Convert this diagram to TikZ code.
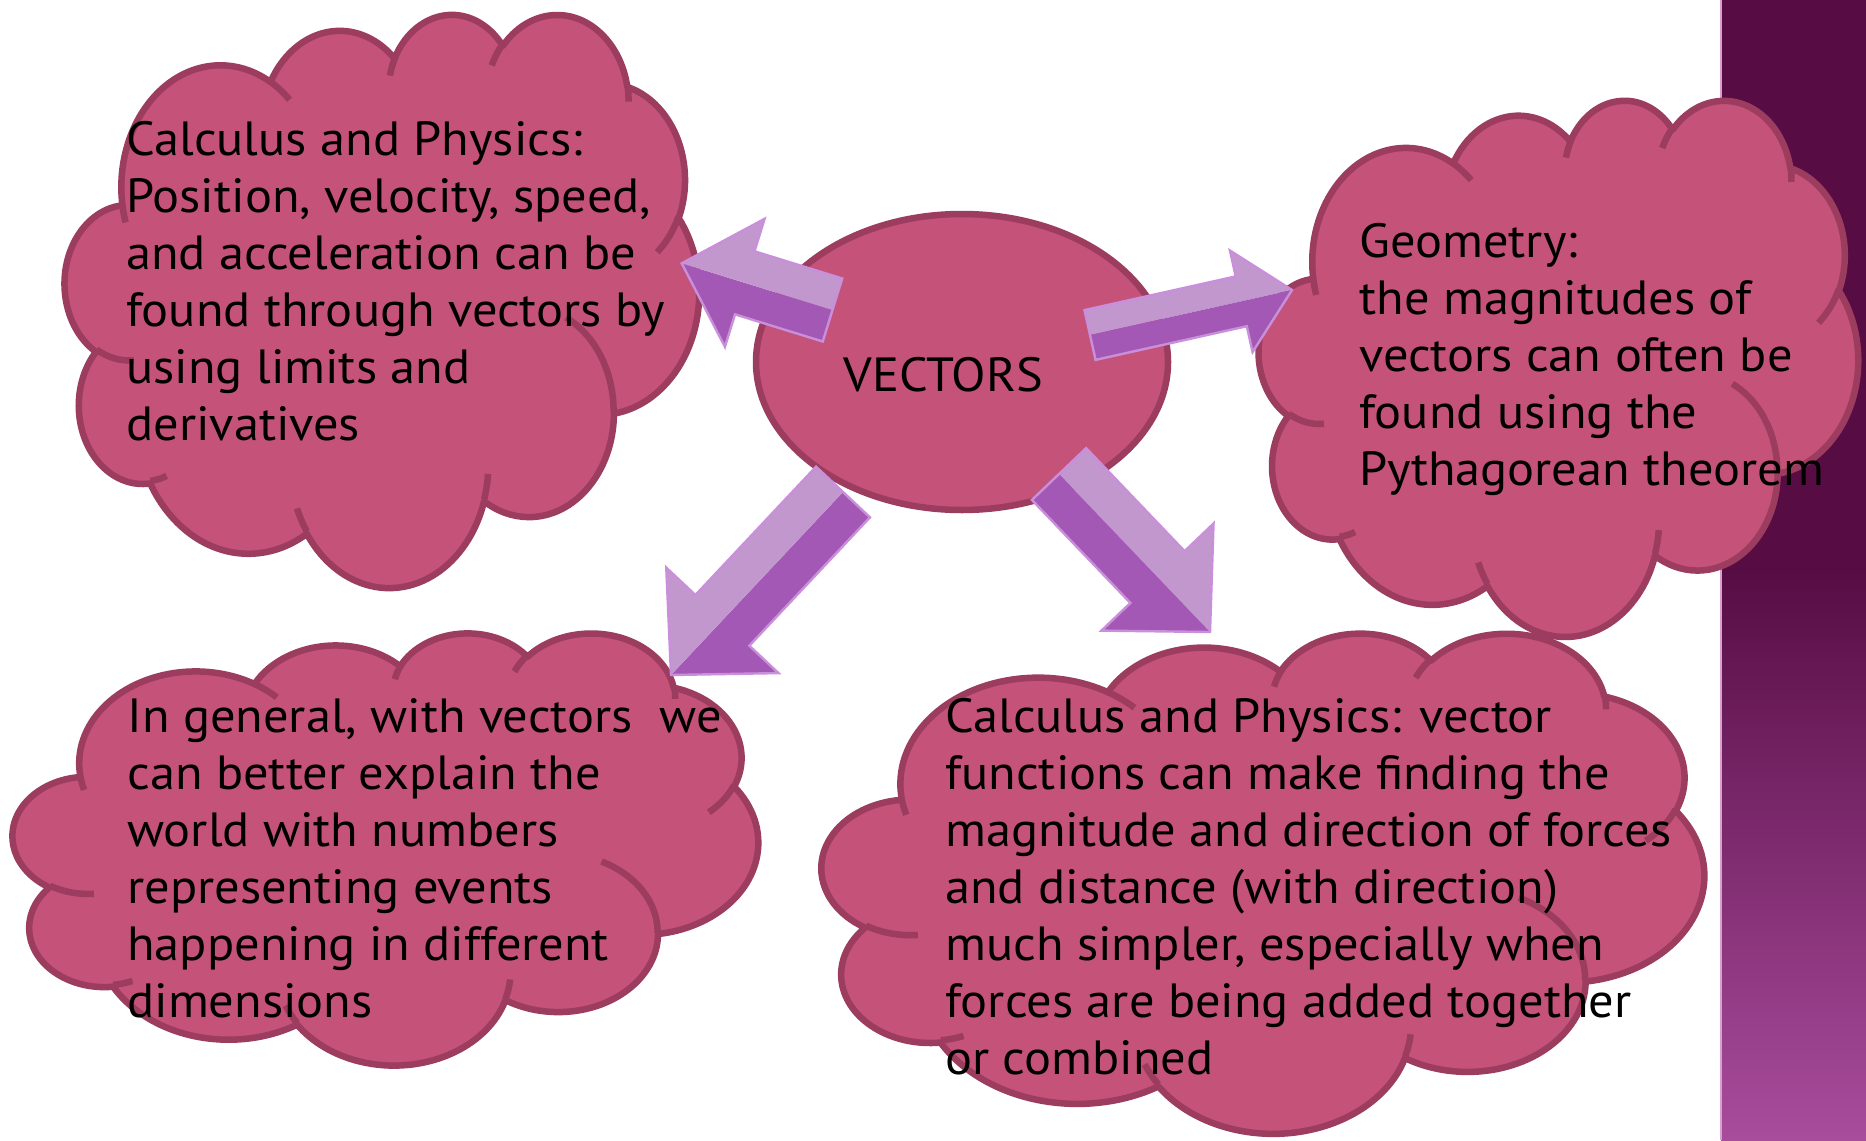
\documentclass[tikz,border=0pt]{standalone}
\usepackage{fontspec}
\setmainfont{PT Sans}[FakeStretch=1.05]
\usetikzlibrary{calc,shapes.geometric}
\definecolor{cloudfill}{HTML}{C45279}
\definecolor{cloudedge}{HTML}{9C3C5E}
\definecolor{arrlight}{HTML}{C297CE}
\definecolor{arrlighter}{HTML}{CDA8DA}
\definecolor{arrdark}{HTML}{A458B5}
\definecolor{arrdarker}{HTML}{B06AC3}
\definecolor{arredge}{HTML}{C98FDA}
\definecolor{bandtop}{HTML}{570D44}
\definecolor{bandbot}{HTML}{A84C9C}
\definecolor{bandedge}{HTML}{D9A0CF}

% arc angle helper: name, wR, hR, start (visual deg), sweep (deg)
\newcommand\cang[5]{%
  \pgfmathsetmacro\tmpts{atan2(#2*sin(#4), #3*cos(#4))}%
  \pgfmathsetmacro\tmpte{atan2(#2*sin(#4+#5), #3*cos(#4+#5))}%
  \pgfmathsetmacro\tmpd{mod(\tmpte-\tmpts+720,360)}%
  \expandafter\xdef\csname zq#1s\endcsname{\tmpts}%
  \expandafter\xdef\csname zq#1d\endcsname{\tmpd}%
}
\cang{A}{6.753}{9.190}{-190.4875}{123.7805}
\cang{B}{5.333}{7.267}{-144.1024}{89.9452}
\cang{C}{4.365}{5.945}{-145.8079}{99.7230}
\cang{D}{4.857}{6.595}{-130.9861}{117.2417}
\cang{E}{5.333}{7.273}{-78.7089}{109.0269}
\cang{F}{6.775}{9.220}{-46.2673}{130.2690}
\cang{G}{5.785}{7.867}{0.6250}{114.0333}
\cang{H}{6.752}{9.215}{22.4516}{115.1726}
\cang{I}{7.720}{10.543}{66.2426}{75.7110}
\cang{J}{4.360}{5.918}{-274.9421}{146.7356}
\cang{K}{4.345}{5.945}{-246.8285}{152.5189}
\cang{a}{4.345}{5.945}{86.7420}{26.4295}
\cang{b}{4.360}{5.918}{73.6105}{11.4475}
\cang{c}{6.752}{9.215}{137.6242}{14.0811}
\cang{d}{6.752}{9.215}{6.4533}{15.9984}
\cang{e}{5.785}{7.867}{-70.2924}{70.9174}
\cang{f}{5.333}{7.273}{30.3180}{27.7515}
\cang{g}{4.857}{6.595}{-13.7443}{14.8589}
\cang{h}{4.857}{6.595}{-149.1815}{18.1954}
\cang{i}{4.365}{5.945}{-163.4943}{17.6864}
\cang{j}{6.753}{9.190}{-66.7070}{12.3194}
\cang{k}{6.753}{9.190}{157.6544}{11.8582}

\tikzset{
  cloudbody/.style={fill=cloudfill, draw=cloudedge, line width=3.25pt, line join=round},
  cloudinner/.style={draw=cloudedge, line width=3.25pt, line cap=butt},
  arrowedge/.style={draw=arredge, line width=1.2pt, line join=miter},
  txt/.style={font=\fontsize{24pt}{28.5pt}\selectfont, align=left, inner sep=0pt, anchor=base west, text=black},
}

% cloud: left, top, width, height (in px units)
\newcommand\pptcloud[4]{%
  \pgfmathsetmacro\cxu{#3/43.2*0.5}%
  \pgfmathsetmacro\cyu{#4/43.2*0.5}%
  \begin{scope}[shift={(#1,#2)}, x=\cxu pt, y=-\cyu pt]
    \path[cloudbody] (3.9,14.37)
      arc[start angle=\zqAs, delta angle=\zqAd, x radius=6.753, y radius=9.190]
      arc[start angle=\zqBs, delta angle=\zqBd, x radius=5.333, y radius=7.267]
      arc[start angle=\zqCs, delta angle=\zqCd, x radius=4.365, y radius=5.945]
      arc[start angle=\zqDs, delta angle=\zqDd, x radius=4.857, y radius=6.595]
      arc[start angle=\zqEs, delta angle=\zqEd, x radius=5.333, y radius=7.273]
      arc[start angle=\zqFs, delta angle=\zqFd, x radius=6.775, y radius=9.220]
      arc[start angle=\zqGs, delta angle=\zqGd, x radius=5.785, y radius=7.867]
      arc[start angle=\zqHs, delta angle=\zqHd, x radius=6.752, y radius=9.215]
      arc[start angle=\zqIs, delta angle=\zqId, x radius=7.720, y radius=10.543]
      arc[start angle=\zqJs, delta angle=\zqJd, x radius=4.360, y radius=5.918]
      arc[start angle=\zqKs, delta angle=\zqKd, x radius=4.345, y radius=5.945]
      -- cycle;
    \path[cloudinner]
      (4.693,26.177) arc[start angle=\zqas, delta angle=\zqad, x radius=4.345, y radius=5.945]
      (6.928,34.899) arc[start angle=\zqbs, delta angle=\zqbd, x radius=4.360, y radius=5.918]
      (16.478,39.090) arc[start angle=\zqcs, delta angle=\zqcd, x radius=6.752, y radius=9.215]
      (28.827,34.751) arc[start angle=\zqds, delta angle=\zqdd, x radius=6.752, y radius=9.215]
      (34.129,22.954) arc[start angle=\zqes, delta angle=\zqed, x radius=5.785, y radius=7.867]
      (41.798,15.354) arc[start angle=\zqfs, delta angle=\zqfd, x radius=5.333, y radius=7.273]
      (38.324,5.426) arc[start angle=\zqgs, delta angle=\zqgd, x radius=4.857, y radius=6.595]
      (29.078,3.952) arc[start angle=\zqhs, delta angle=\zqhd, x radius=4.857, y radius=6.595]
      (22.141,4.720) arc[start angle=\zqis, delta angle=\zqid, x radius=4.365, y radius=5.945]
      (14.000,5.192) arc[start angle=\zqjs, delta angle=\zqjd, x radius=6.753, y radius=9.190]
      (4.127,15.789) arc[start angle=\zqks, delta angle=\zqkd, x radius=6.753, y radius=9.190];
  \end{scope}}

% block arrow: tail, tip, half shaft width, half head width, head length, colour +90 side, colour -90 side, name
\newcommand\blockarrow[8]{%
  \coordinate (#8-b) at ($(#2)!#5!(#1)$);
  \fill[#6] (#1) -- ($(#1)!#3!90:(#2)$) -- ($(#8-b)!#3!90:(#2)$) -- ($(#8-b)!#4!90:(#2)$) -- (#2) -- cycle;
  \fill[#7] (#1) -- ($(#1)!#3!-90:(#2)$) -- ($(#8-b)!#3!-90:(#2)$) -- ($(#8-b)!#4!-90:(#2)$) -- (#2) -- cycle;
  \path[arrowedge] ($(#1)!#3!90:(#2)$) -- ($(#8-b)!#3!90:(#2)$) -- ($(#8-b)!#4!90:(#2)$) -- (#2)
    -- ($(#8-b)!#4!-90:(#2)$) -- ($(#8-b)!#3!-90:(#2)$) -- ($(#1)!#3!-90:(#2)$) -- cycle;
}

\begin{document}
\begin{tikzpicture}[x=0.5pt, y=-0.5pt]
  \useasboundingbox (0,0) rectangle (1866,1140);
  \fill[white] (0,0) rectangle (1866,1140);

  % right band
  \fill[bandtop] (1721,0) rectangle (1866,571);
  \shade[top color=bandtop, bottom color=bandbot] (1721,570) rectangle (1866,1140);
  \draw[bandedge, line width=0.8pt] (1721,0) -- (1721,1140);

  % clouds
  \pptcloud{65}{13}{634}{573}
  \pptcloud{1259}{99}{599}{536}
  \pptcloud{13}{632}{745}{432}
  \pptcloud{822}{632}{882}{500}

  % centre ellipse
  \node[ellipse, draw=cloudedge, fill=cloudfill, line width=3.25pt,
        minimum width=206pt, minimum height=148pt, inner sep=0pt] (vec) at (962,362) {};

  % arrows
  \coordinate (a1t) at (832.5,310);  \coordinate (a1p) at (681.7,263.3);
  \coordinate (a2t) at (1090,335);   \coordinate (a2p) at (1292,290);
  \coordinate (a3t) at (843,492);    \coordinate (a3p) at (671,675);
  \coordinate (a4t) at (1059,474);   \coordinate (a4p) at (1210,632);
  \blockarrow{a1t}{a1p}{16.5pt}{33.5pt}{33pt}{arrdark}{arrlight}{a1}
  \blockarrow{a2t}{a2p}{12.75pt}{26pt}{26pt}{arrlight}{arrdark}{a2}
  \blockarrow{a3t}{a3p}{18.5pt}{38.5pt}{37.5pt}{arrdark}{arrlight}{a3}
  \blockarrow{a4t}{a4p}{18.75pt}{38.75pt}{38pt}{arrlight}{arrdark}{a4}

  % texts (anchored at the baseline of the last line)
  \node[txt] (vectxt) at (843,391) {VECTORS};
  \node[txt] (t1) at (126,440) {Calculus and Physics:\\Position, velocity, speed,\\and acceleration can be\\found through vectors by\\using limits and\\derivatives};
  \node[txt] (t2) at (1359,485) {Geometry:\\the magnitudes of\\vectors can often be\\found using the\\Pythagorean theorem};
  \node[txt] (t3) at (127,1017) {In general, with vectors\ \ we\\can better explain the\\world with numbers\\representing events\\happening in different\\dimensions};
  \node[txt] (t4) at (945,1074) {Calculus and Physics: vector\\functions can make finding the\\magnitude and direction of forces\\and distance (with direction)\\much simpler, especially when\\forces are being added together\\or combined};
\end{tikzpicture}
\end{document}
